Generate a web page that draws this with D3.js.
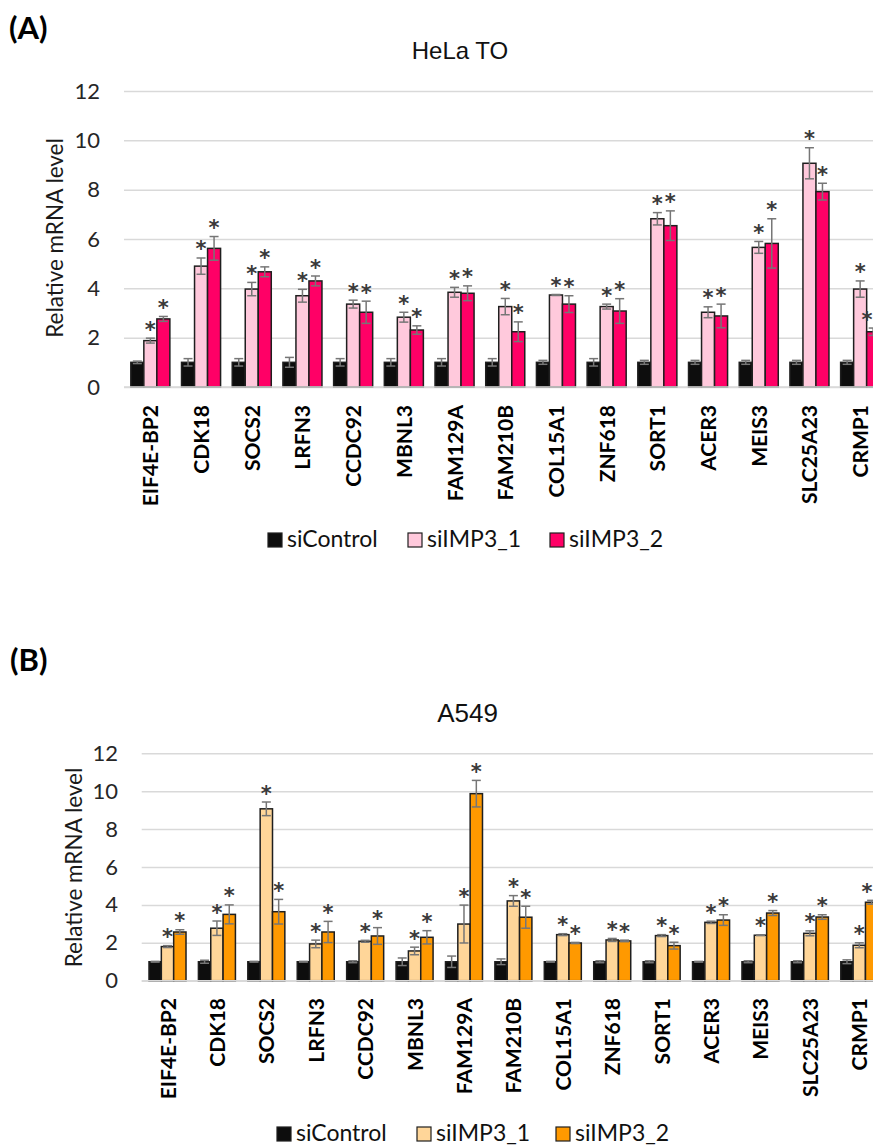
<!DOCTYPE html>
<html>
<head>
<meta charset="utf-8">
<script src="https://cdn.jsdelivr.net/npm/d3@7"></script>
<style>
  html, body { margin: 0; padding: 0; background: #fff; }
  svg { display: block; }
</style>
</head>
<body>
<svg id="chart" width="873" height="1145"></svg>
<script>
// ---------------- DATA ----------------
const categories = ["EIF4E-BP2","CDK18","SOCS2","LRFN3","CCDC92","MBNL3","FAM129A","FAM210B","COL15A1","ZNF618","SORT1","ACER3","MEIS3","SLC25A23","CRMP1"];
const seriesNames = ["siControl","siIMP3_1","siIMP3_2"];
const yTicks = [0, 2, 4, 6, 8, 10, 12];

// Panel A: HeLa TO
const helaControl    = [1.0,1.0,1.0,1.0,1.0,1.0,1.0,1.0,1.0,1.0,1.0,1.0,1.0,1.0,1.0];
const helaControlErr = [0.05,0.15,0.15,0.2,0.15,0.15,0.15,0.15,0.08,0.15,0.08,0.08,0.08,0.08,0.08];
const helaIMP3_1     = [1.88,4.9,3.97,3.7,3.36,2.83,3.84,3.26,3.73,3.26,6.82,3.03,5.66,9.07,3.97];
const helaIMP3_1Err  = [0.1,0.33,0.27,0.26,0.16,0.2,0.2,0.33,0.02,0.1,0.25,0.22,0.24,0.63,0.33];
const helaIMP3_2     = [2.76,5.62,4.67,4.3,3.03,2.31,3.8,2.24,3.36,3.08,6.54,2.88,5.82,7.92,2.24];
const helaIMP3_2Err  = [0.1,0.48,0.2,0.2,0.45,0.17,0.3,0.4,0.34,0.5,0.6,0.48,1.0,0.34,0.15];

// Panel B: A549
const a549Control    = [1.0,1.0,1.0,1.0,1.0,1.0,1.0,1.0,1.0,1.0,1.0,1.0,1.0,1.0,1.0];
const a549ControlErr = [0.02,0.08,0.02,0.02,0.05,0.2,0.3,0.15,0.02,0.05,0.05,0.02,0.05,0.05,0.1];
const a549IMP3_1     = [1.8,2.77,9.07,1.94,2.08,1.57,2.99,4.21,2.43,2.15,2.38,3.08,2.4,2.5,1.87];
const a549IMP3_1Err  = [0.05,0.38,0.36,0.2,0.05,0.2,1.0,0.28,0.05,0.08,0.05,0.06,0.02,0.13,0.13];
const a549IMP3_2     = [2.57,3.5,3.64,2.57,2.36,2.29,9.87,3.35,1.99,2.1,1.85,3.2,3.57,3.36,4.14];
const a549IMP3_2Err  = [0.12,0.5,0.65,0.56,0.44,0.35,0.7,0.58,0.03,0.04,0.18,0.28,0.13,0.12,0.1];

// significance stars (siIMP3 bars only)
const helaStars1 = [1,1,1,1,1,1,1,1,1,1,1,1,1,1,1];
const helaStars2 = [1,1,1,1,1,1,1,1,1,1,1,1,1,1,1];
const a549Stars1 = [1,1,1,1,1,1,1,1,1,1,1,1,1,1,1];
const a549Stars2 = [1,1,1,1,1,1,1,1,1,1,1,1,1,1,1];

// ---------------- DRAWING ----------------
const svg = d3.select("#chart");
const FONT = "Lato, 'Open Sans', sans-serif";
const W = 873;

function drawPanel(cfg) {
  const g = svg.append("g");
  const x0 = d3.scaleBand().domain(categories).range(cfg.xRange)
    .paddingInner(cfg.padIn).paddingOuter(cfg.padIn / 2);
  const x1 = d3.scaleBand().domain(seriesNames).range([0, x0.bandwidth()]);
  const y = d3.scaleLinear().domain([0, 12]).range(cfg.yRange);

  // panel letter
  g.append("text").attr("x", cfg.letterPos[0]).attr("y", cfg.letterPos[1])
    .attr("font-family", FONT).attr("font-weight", 700).attr("font-size", 31)
    .attr("fill", "#000").text(cfg.letter);

  // title
  g.append("text").attr("x", cfg.titlePos[0]).attr("y", cfg.titlePos[1])
    .attr("text-anchor", "middle")
    .attr("font-family", "'Liberation Sans', Arial, sans-serif")
    .attr("font-size", cfg.titleSize).attr("fill", "#111").text(cfg.title);

  // grid lines
  const gridAxis = d3.axisLeft(y).tickValues(yTicks)
    .tickSize(-(880 - cfg.gridLeft)).tickFormat("");
  const grid = g.append("g").attr("transform", `translate(${cfg.gridLeft},0)`).call(gridAxis);
  grid.select(".domain").remove();
  grid.selectAll(".tick line").attr("stroke", "#d9d9d9").attr("stroke-width", 1.5);

  // tick labels
  const labAxis = d3.axisLeft(y).tickValues(yTicks).tickSize(0).tickPadding(0);
  const lab = g.append("g").attr("transform", `translate(${cfg.tickRight},0)`).call(labAxis);
  lab.select(".domain").remove();
  lab.selectAll(".tick text").attr("font-family", FONT).attr("font-size", 22)
    .attr("fill", "#262626");

  // y axis title
  g.append("text")
    .attr("transform", `translate(${cfg.yTitlePos[0]},${cfg.yTitlePos[1]}) rotate(-90)`)
    .attr("text-anchor", "middle").attr("font-family", FONT).attr("font-size", 22.5)
    .attr("fill", "#1a1a1a").text("Relative mRNA level");

  const series = [
    { name: seriesNames[0], vals: cfg.ctrl, errs: cfg.ctrlErr, stars: null, color: "#0d0d0d" },
    { name: seriesNames[1], vals: cfg.s1, errs: cfg.s1Err, stars: cfg.st1, color: cfg.c1 },
    { name: seriesNames[2], vals: cfg.s2, errs: cfg.s2Err, stars: cfg.st2, color: cfg.c2 }
  ];

  const bars = g.append("g");
  series.forEach(s => {
    const data = categories.map((c, i) => ({ c, v: s.vals[i], e: s.errs[i], st: s.stars ? s.stars[i] : 0 }));
    const sg = bars.append("g");
    sg.selectAll("rect").data(data).join("rect")
      .attr("x", d => x0(d.c) + x1(s.name))
      .attr("y", d => y(d.v))
      .attr("width", x1.bandwidth())
      .attr("height", d => y(0) - y(d.v))
      .attr("fill", s.color).attr("stroke", "#1f1f1f").attr("stroke-width", 1.5);
    const cx = d => x0(d.c) + x1(s.name) + x1.bandwidth() / 2;
    sg.selectAll("line.eb").data(data).join("line").attr("class", "eb")
      .attr("x1", cx).attr("x2", cx)
      .attr("y1", d => y(d.v - d.e)).attr("y2", d => y(d.v + d.e))
      .attr("stroke", "#767676").attr("stroke-width", 1.5);
    sg.selectAll("line.ct").data(data).join("line").attr("class", "ct")
      .attr("x1", d => cx(d) - 4.5).attr("x2", d => cx(d) + 4.5)
      .attr("y1", d => y(d.v + d.e)).attr("y2", d => y(d.v + d.e))
      .attr("stroke", "#767676").attr("stroke-width", 1.5);
    sg.selectAll("line.cb").data(data).join("line").attr("class", "cb")
      .attr("x1", d => cx(d) - 4.5).attr("x2", d => cx(d) + 4.5)
      .attr("y1", d => y(d.v - d.e)).attr("y2", d => y(d.v - d.e))
      .attr("stroke", "#767676").attr("stroke-width", 1.5);
    if (s.stars) {
      sg.selectAll("text.star").data(data.filter(d => d.st)).join("text").attr("class", "star")
        .attr("x", d => Math.min(cx(d), W - 6))
        .attr("y", d => y(d.v + d.e) - 1.5)
        .attr("text-anchor", "middle").attr("font-family", "'DejaVu Sans', sans-serif")
        .attr("font-weight", 700)
        .attr("font-size", 21).attr("fill", "#3a3a3a").text("*");
    }
  });

  // baseline
  g.append("line").attr("x1", cfg.gridLeft).attr("x2", 880)
    .attr("y1", y(0)).attr("y2", y(0)).attr("stroke", "#d9d9d9").attr("stroke-width", 1.5);

  // category labels
  g.append("g").selectAll("text").data(categories).join("text")
    .attr("transform", d => `translate(${x0(d) + x0.bandwidth() / 2 + 8},${cfg.labelTop}) rotate(-90)`)
    .attr("text-anchor", "end").attr("font-family", FONT).attr("font-weight", 700)
    .attr("font-size", 21).attr("fill", "#000").text(d => d);

  // legend
  const colors = [series[0].color, cfg.c1, cfg.c2];
  const lg = g.append("g");
  seriesNames.forEach((n, i) => {
    lg.append("rect").attr("x", cfg.legendX[i]).attr("y", cfg.legendY - 14)
      .attr("width", 14).attr("height", 14).attr("fill", colors[i])
      .attr("stroke", "#1f1f1f").attr("stroke-width", 1.2);
    lg.append("text").attr("x", cfg.legendX[i] + 19).attr("y", cfg.legendY)
      .attr("font-family", FONT).attr("font-size", 23).attr("fill", "#111").text(n);
  });
}

drawPanel({
  letter: "(A)", letterPos: [9, 39],
  title: "HeLa TO", titlePos: [460, 58.5], titleSize: 24,
  xRange: [125, 885.5], padIn: 0.23,
  yRange: [387, 91], gridLeft: 124, tickRight: 100,
  yTitlePos: [63, 238],
  ctrl: helaControl, ctrlErr: helaControlErr,
  s1: helaIMP3_1, s1Err: helaIMP3_1Err, st1: helaStars1,
  s2: helaIMP3_2, s2Err: helaIMP3_2Err, st2: helaStars2,
  c1: "#ffc9dc", c2: "#ff0066",
  labelTop: 405,
  legendX: [268, 408, 550], legendY: 547
});

drawPanel({
  letter: "(B)", letterPos: [10, 671],
  title: "A549", titlePos: [467.5, 721.5], titleSize: 26,
  xRange: [142.8, 884], padIn: 0.251,
  yRange: [980.7, 753.3], gridLeft: 141.7, tickRight: 118,
  yTitlePos: [82, 867.5],
  ctrl: a549Control, ctrlErr: a549ControlErr,
  s1: a549IMP3_1, s1Err: a549IMP3_1Err, st1: a549Stars1,
  s2: a549IMP3_2, s2Err: a549IMP3_2Err, st2: a549Stars2,
  c1: "#ffd699", c2: "#ff9900",
  labelTop: 998,
  legendX: [277, 417, 556], legendY: 1141
});
</script>
</body>
</html>
